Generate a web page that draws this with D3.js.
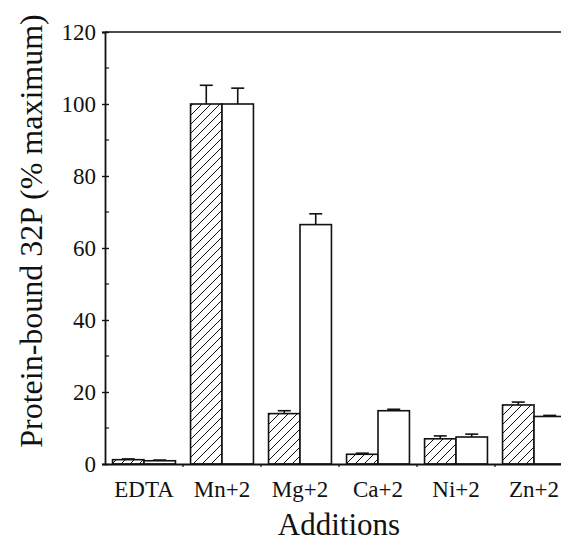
<!DOCTYPE html>
<meta charset="utf-8">
<style>
    * {
        margin: 0px;
    }
    body {
        background: #fff;
    }
    text {
        font-family: "Liberation Serif", "Times New Roman", Times, "DejaVu Serif", serif;
        fill: #111;
    }
    .axis path, .axis line {
        stroke: #111;
    }
</style>
<svg width="561" height="542"></svg>
<script src="https://d3js.org/d3.v7.min.js"></script>
<script>
    // metals added to the assay
    var additions = ["EDTA", "Mn+2", "Mg+2", "Ca+2", "Ni+2", "Zn+2"];
    var seriesNames = ["hatched", "open"];
    // protein-bound 32P, % of maximum
    var hatchedValues = [1.2, 100, 14.0, 2.7, 7.0, 16.4];
    var hatchedErrors = [0.2, 5.2, 0.8, 0.3, 0.8, 0.8];
    var openValues = [0.9, 100, 66.5, 14.8, 7.5, 13.2];
    var openErrors = [0.2, 4.4, 3.0, 0.4, 0.8, 0.3];
    var yTicks = [0, 20, 40, 60, 80, 100, 120];
    var yMinorTicks = [10, 30, 50, 70, 90, 110];

    var serif = '"Liberation Serif", "Times New Roman", Times, "DejaVu Serif", serif';

    var svg = d3.select("svg");

    var x = d3.scaleBand()
        .domain(additions)
        .range([105, 573])
        .paddingInner(0)
        .paddingOuter(0);

    var xSub = d3.scaleBand()
        .domain(seriesNames)
        .range([0, x.bandwidth()])
        .paddingInner(0)
        .paddingOuter(0.24);

    var y = d3.scaleLinear()
        .domain([0, 120])
        .range([464, 32]);

    // hatch pattern
    var defs = svg.append("defs");
    defs.append("pattern")
        .attr("id", "hatch")
        .attr("patternUnits", "userSpaceOnUse")
        .attr("width", 9)
        .attr("height", 9)
        .append("path")
        .attr("d", "M0,9 L9,0 M-2,2 L2,-2 M7,11 L11,7")
        .attr("stroke", "#111")
        .attr("stroke-width", 1);

    var rows = [];
    additions.forEach(function(a, i) {
        rows.push({ cat: a, s: "hatched", v: hatchedValues[i], e: hatchedErrors[i] });
        rows.push({ cat: a, s: "open", v: openValues[i], e: openErrors[i] });
    });

    // error bars first so the bar outline sits over the stem
    var err = svg.append("g")
        .selectAll("g")
        .data(rows)
        .enter().append("g")
        .attr("stroke", "#111")
        .attr("stroke-width", 1.6);

    err.append("line")
        .attr("x1", function(d) { return x(d.cat) + xSub(d.s) + xSub.bandwidth() / 2; })
        .attr("x2", function(d) { return x(d.cat) + xSub(d.s) + xSub.bandwidth() / 2; })
        .attr("y1", function(d) { return y(d.v); })
        .attr("y2", function(d) { return y(d.v + d.e); });

    err.append("line")
        .attr("x1", function(d) { return x(d.cat) + xSub(d.s) + xSub.bandwidth() / 2 - 6.5; })
        .attr("x2", function(d) { return x(d.cat) + xSub(d.s) + xSub.bandwidth() / 2 + 6.5; })
        .attr("y1", function(d) { return y(d.v + d.e); })
        .attr("y2", function(d) { return y(d.v + d.e); });

    svg.append("g")
        .selectAll("rect")
        .data(rows)
        .enter().append("rect")
        .attr("x", function(d) { return x(d.cat) + xSub(d.s); })
        .attr("y", function(d) { return y(d.v); })
        .attr("width", xSub.bandwidth())
        .attr("height", function(d) { return y(0) - y(d.v); })
        .attr("fill", function(d) { return d.s === "hatched" ? "url(#hatch)" : "#fff"; })
        .attr("stroke", "#111")
        .attr("stroke-width", 1.6);

    // y axis
    var yAxis = svg.append("g")
        .attr("class", "axis")
        .attr("transform", "translate(105,0)")
        .call(d3.axisLeft(y).tickValues(yTicks).tickSize(3).tickPadding(6));
    yAxis.attr("font-family", serif);
    yAxis.select(".domain").attr("stroke-width", 1.8);
    yAxis.selectAll(".tick line").attr("x2", 4).attr("x1", -3).attr("stroke-width", 1.4);
    yAxis.selectAll("text")
        .style("font-size", "23px")
        .style("font-family", serif)
        .attr("fill", "#111");

    svg.append("g")
        .attr("class", "axis")
        .selectAll("line")
        .data(yMinorTicks)
        .enter().append("line")
        .attr("x1", 105)
        .attr("x2", 109)
        .attr("y1", function(d) { return y(d); })
        .attr("y2", function(d) { return y(d); })
        .attr("stroke-width", 1.2);

    // top frame
    svg.append("line")
        .attr("x1", 105)
        .attr("x2", 573)
        .attr("y1", y(120))
        .attr("y2", y(120))
        .attr("stroke", "#111")
        .attr("stroke-width", 1.6);

    // x axis
    var xAxis = svg.append("g")
        .attr("class", "axis")
        .attr("transform", "translate(0," + y(0) + ")")
        .call(d3.axisBottom(x).tickSize(0).tickPadding(17));
    xAxis.attr("font-family", serif);
    xAxis.select(".domain").attr("stroke-width", 1.8);
    xAxis.selectAll("text")
        .style("font-size", "23px")
        .style("font-family", serif)
        .attr("fill", "#111");

    // small ticks between groups
    svg.append("g")
        .selectAll("line")
        .data(additions.slice(1))
        .enter().append("line")
        .attr("x1", function(d) { return x(d); })
        .attr("x2", function(d) { return x(d); })
        .attr("y1", y(0))
        .attr("y2", y(0) + 3)
        .attr("stroke", "#111")
        .attr("stroke-width", 1.2);

    // titles
    svg.append("text")
        .attr("x", 339)
        .attr("y", 535)
        .attr("text-anchor", "middle")
        .style("font-family", serif)
        .style("font-size", "31px")
        .text("Additions");

    svg.append("text")
        .attr("transform", "translate(42,231) rotate(-90)")
        .attr("text-anchor", "middle")
        .style("font-family", serif)
        .style("font-size", "32px")
        .text("Protein-bound 32P (% maximum)");
</script>
